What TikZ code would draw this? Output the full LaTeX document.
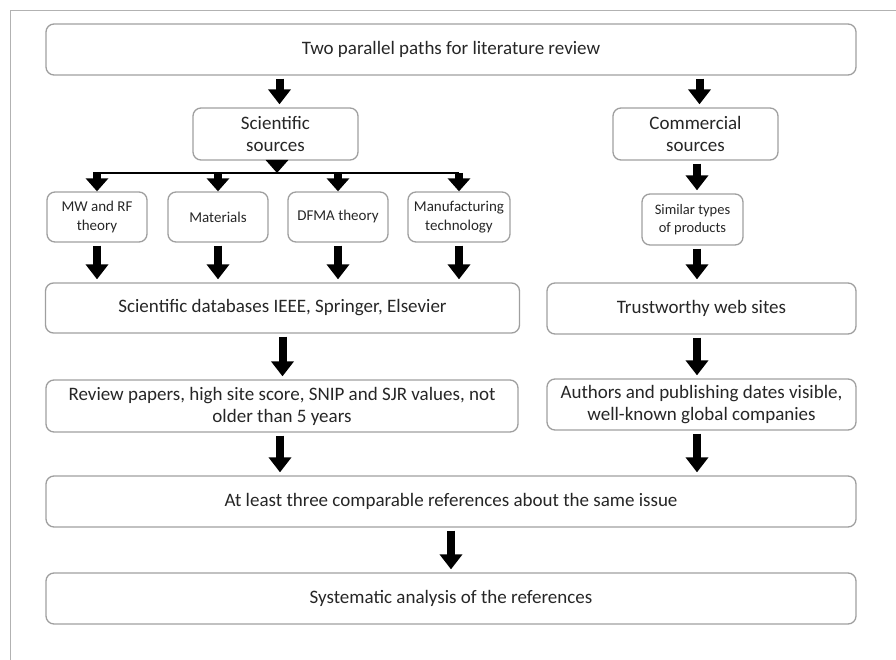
\documentclass[tikz,border=0pt]{standalone}
\usepackage{fontspec}
\setmainfont{Carlito}
\usetikzlibrary{arrows.meta}

\tikzset{
  box/.style={draw=gray!75, line width=1.3pt, rounded corners=8pt, align=center, inner sep=1pt,
    text=black!85, font=\fontsize{19}{22}\selectfont},
  smallbox/.style={box, minimum width=100pt, minimum height=50pt, font=\fontsize{15}{18.5}\selectfont},
  bigarrow/.style={line width=8pt, -{Triangle[width=22pt,length=15pt]}, shorten <=3pt, shorten >=3pt},
  tiparrow/.style={line width=8pt, -{Triangle[width=22pt,length=13pt]}},
  branchline/.style={line width=2.4pt}
}

\begin{document}
\begin{tikzpicture}[x=1pt, y=-1pt]
  \useasboundingbox (0,0) rectangle (896,660);
  \draw[gray!60, line width=1pt] (10,660) -- (10,11) -- (896,11);

  \node[box, minimum width=810pt, minimum height=51pt] (top) at (451,49.5) {Two parallel paths for literature review};
  \node[box, minimum width=165pt, minimum height=52pt] (sci) at (275.5,134) {Scientific\\sources};
  \node[box, minimum width=165pt, minimum height=52pt] (com) at (695.5,134) {Commercial\\sources};
  \node[smallbox] (mw) at (97,217) {MW and RF\\theory};
  \node[smallbox] (mat) at (218,217) {Materials};
  \node[smallbox] (dfma) at (338,217) {DFMA theory};
  \node[smallbox, minimum width=102pt] (manu) at (459,217) {Manufacturing\\technology};
  \node[smallbox, minimum width=101pt, minimum height=51pt, font=\fontsize{14.5}{18}\selectfont] (sim) at (692.5,219.5) {Similar types\\of products};
  \node[box, minimum width=474pt, minimum height=50pt] (db) at (282.5,308) {Scientific databases IEEE, Springer, Elsevier};
  \node[box, minimum width=309pt, minimum height=51pt] (trust) at (701.5,308.5) {Trustworthy web sites};
  \node[box, minimum width=472pt, minimum height=52pt] (rev) at (282,406) {Review papers, high site score, SNIP and SJR values, not\\older than 5 years};
  \node[box, minimum width=309pt, minimum height=51pt] (auth) at (701.5,404.5) {Authors and publishing dates visible,\\well-known global companies};
  \node[box, minimum width=810pt, minimum height=51pt] (least) at (451,501.5) {At least three comparable references about the same issue};
  \node[box, minimum width=810pt, minimum height=51pt] (sys) at (451,598.5) {Systematic analysis of the references};

  % scientific path
  \coordinate (branch) at (277,173);
  \draw[bigarrow] ([xshift=4pt]sci.north |- top.south) -- ([xshift=4pt]sci.north);
  \draw[tiparrow] (sci.south -| branch) -- (branch);
  \draw[branchline] ([xshift=-4pt]mw.north |- branch) -- (manu.north |- branch);
  \foreach \n in {mw, mat, dfma, manu}
    \draw[tiparrow] (\n.north |- branch) -- (\n.north);
  \foreach \n in {mw, mat, dfma, manu}
    \draw[bigarrow] (\n.south) -- (\n.south |- db.north);
  \draw[bigarrow] (db.south) -- (db.south |- rev.north);
  \draw[bigarrow] ([xshift=-2pt]rev.south) -- ([xshift=-2pt]rev.south |- least.north);

  % commercial path
  \draw[bigarrow] ([xshift=4pt]com.north |- top.south) -- ([xshift=4pt]com.north);
  \draw[bigarrow] ([xshift=1.5pt]com.south) -- ([xshift=1.5pt]com.south |- sim.north);
  \draw[bigarrow] ([xshift=4.5pt]sim.south) -- ([xshift=4.5pt]sim.south |- trust.north);
  \draw[bigarrow] ([xshift=-4.5pt]trust.south) -- ([xshift=-4.5pt]trust.south |- auth.north);
  \draw[bigarrow] ([xshift=-4.5pt]auth.south) -- ([xshift=-4.5pt]auth.south |- least.north);

  \draw[bigarrow] (least.south) -- (sys.north);
\end{tikzpicture}
\end{document}
